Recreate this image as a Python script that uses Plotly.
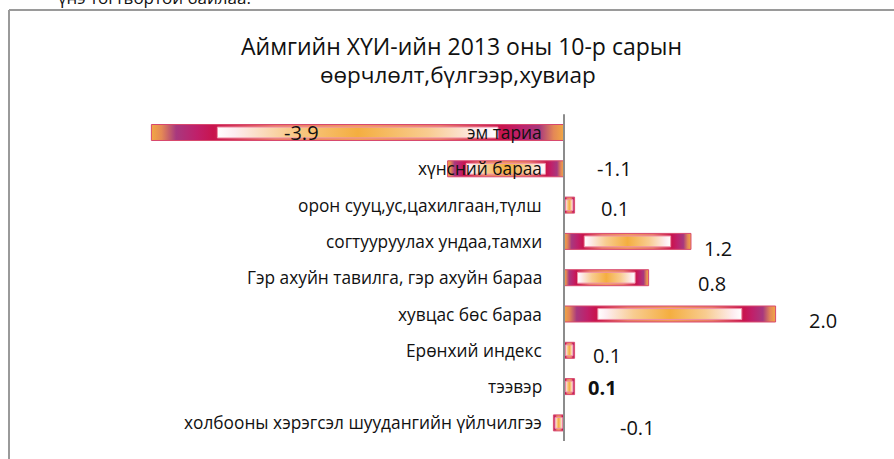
import plotly.graph_objects as go

# ---- data ----
categories = [
    "эм тариа",
    "хүнсний бараа",
    "орон сууц,ус,цахилгаан,түлш",
    "согтууруулах ундаа,тамхи",
    "Гэр ахуйн тавилга, гэр ахуйн бараа",
    "хувцас бөс бараа",
    "Ерөнхий индекс",
    "тээвэр",
    "холбооны хэрэгсэл шуудангийн үйлчилгээ",
]
values = [-3.9, -1.1, 0.1, 1.2, 0.8, 2.0, 0.1, 0.1, -0.1]
value_labels = ["-3.9", "-1.1", "0.1", "1.2", "0.8", "2.0", "0.1", "0.1", "-0.1"]
bold_label = [False, False, False, False, False, False, False, True, False]

title_line1 = "Аймгийн ХҮИ-ийн 2013 оны 10-р сарын"
title_line2 = "өөрчлөлт,бүлгээр,хувиар"
above_text = "үнэ тогтвортой байлаа."

# ---- layout/style (pixel offsets of the value labels relative to the axis) ----
label_xshift = [-263, 50, 51, 154, 148, 259, 43, 38, 73]
label_yshift = [0, 0, -3, -7, -6, -6, -5, -1, -5]

W, H = 894, 459
ZERO_PX, PX_PER_UNIT = 564, 105.8
ROW0_PX, ROW_PX = 132.5, 36.3
half = 0.22

FONT = "Open Sans"

outer_scale = [
    [0.00, "#F2A844"], [0.025, "#E48856"], [0.06, "#A8387E"], [0.11, "#C0206A"],
    [0.15, "#C8144E"], [0.3, "#E87A66"], [0.5, "#F09A58"], [0.7, "#E87A66"],
    [0.85, "#C8144E"], [0.89, "#C0206A"], [0.94, "#A8387E"], [0.975, "#E48856"], [1.00, "#F2A844"],
]
inner_scale = [
    [0.0, "#FFFFFF"], [0.06, "#FDEDF0"], [0.25, "#F8CC90"], [0.5, "#F4AE40"],
    [0.75, "#F8CC90"], [0.94, "#FDEDF0"], [1.0, "#FFFFFF"],
]

fig = go.Figure()
for i, v in enumerate(values):
    x0, x1 = min(0, v), max(0, v)
    fig.add_trace(go.Scatter(
        x=[x0, x1, x1, x0, x0], y=[i - half, i - half, i + half, i + half, i - half],
        mode="lines", fill="toself", line=dict(color="#D8486E", width=1),
        fillgradient=dict(type="horizontal", colorscale=outer_scale),
        hoverinfo="skip", showlegend=False,
    ))
    ix0 = x0 + 0.16 * (x1 - x0)
    ix1 = x0 + 0.84 * (x1 - x0)
    ih = half * 0.68
    fig.add_trace(go.Scatter(
        x=[ix0, ix1, ix1, ix0, ix0], y=[i - ih, i - ih, i + ih, i + ih, i - ih],
        mode="lines", fill="toself", line=dict(color="#F090A8", width=1),
        fillgradient=dict(type="horizontal", colorscale=inner_scale),
        hoverinfo="skip", showlegend=False,
    ))

annotations = []
for i, (c, v) in enumerate(zip(categories, values)):
    annotations.append(dict(
        x=0, y=i, xref="x", yref="y", text=c, showarrow=False,
        xanchor="right", yanchor="middle", xshift=-20,
        font=dict(family=FONT, size=17.3, color="#111111"),
    ))
    t = f"<b>{value_labels[i]}</b>" if bold_label[i] else value_labels[i]
    annotations.append(dict(
        x=0, y=i, xref="x", yref="y", text=t, showarrow=False,
        xanchor="center", yanchor="middle",
        xshift=label_xshift[i], yshift=label_yshift[i],
        font=dict(family=FONT, size=20, color="#111111"),
    ))

annotations.append(dict(x=461 / W, y=1 - 46 / H, xref="paper", yref="paper", text=title_line1,
                        showarrow=False, xanchor="center", yanchor="middle",
                        font=dict(family=FONT, size=23, color="#111111")))
annotations.append(dict(x=458 / W, y=1 - 75 / H, xref="paper", yref="paper", text=title_line2,
                        showarrow=False, xanchor="center", yanchor="middle",
                        font=dict(family=FONT, size=22.5, color="#111111")))
annotations.append(dict(x=253 / W, y=1 + 2 / H, xref="paper", yref="paper", text=above_text,
                        showarrow=False, xanchor="right", yanchor="middle",
                        font=dict(family=FONT, size=17, color="#111111")))

shapes = [
    # chart frame (top and left edges visible)
    dict(type="line", xref="paper", yref="paper", x0=9 / W, x1=1.01, y0=1 - 10 / H, y1=1 - 10 / H,
         line=dict(color="#9a9a9a", width=2)),
    dict(type="line", xref="paper", yref="paper", x0=9 / W, x1=9 / W, y0=1 - 10 / H, y1=-0.01,
         line=dict(color="#9a9a9a", width=2)),
    # zero axis
    dict(type="line", xref="x", yref="y", x0=0, x1=0, y0=-0.5, y1=len(values) - 0.5,
         line=dict(color="#8c8c8c", width=2)),
]

fig.update_layout(
    width=W, height=H,
    margin=dict(l=0, r=0, t=0, b=0),
    paper_bgcolor="white", plot_bgcolor="white",
    xaxis=dict(range=[-ZERO_PX / PX_PER_UNIT, (W - ZERO_PX) / PX_PER_UNIT], visible=False, fixedrange=True),
    yaxis=dict(range=[(H - ROW0_PX) / ROW_PX, -ROW0_PX / ROW_PX], visible=False, fixedrange=True),
    annotations=annotations, shapes=shapes,
    showlegend=False,
)

fig.write_html(
    "out.html",
    config={"displayModeBar": False},
    post_script="document.body.style.margin='0';document.body.style.overflow='hidden';",
)
